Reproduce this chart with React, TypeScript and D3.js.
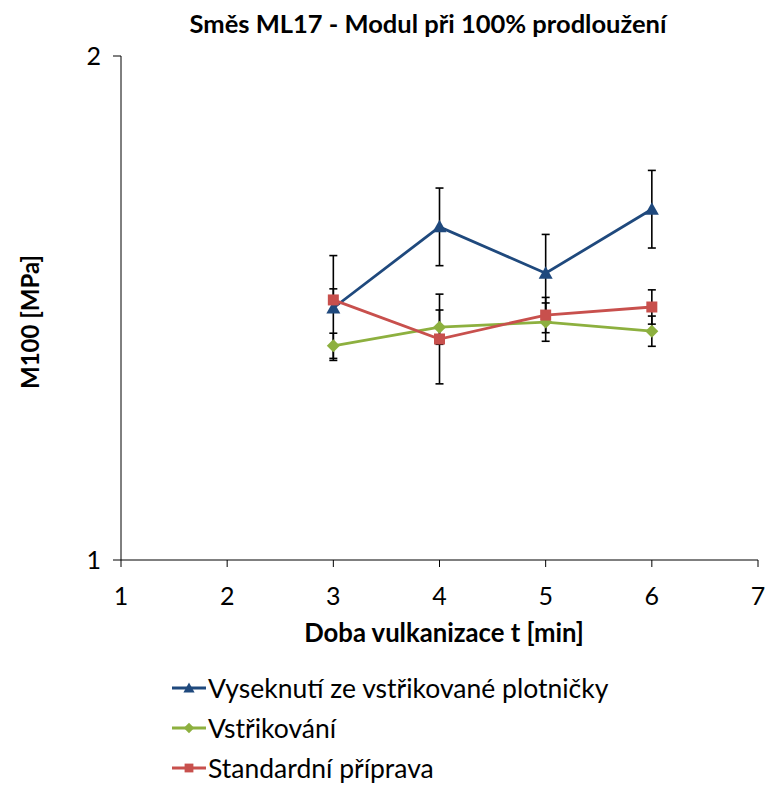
import React from "react";
import * as d3 from "d3";

const xValues = [3, 4, 5, 6];
const seriesNames = ["Vyseknutí ze vstřikované plotničky", "Vstřikování", "Standardní příprava"];
const blueValues = [1.5, 1.661, 1.569, 1.696];
const blueErrors = [0.104, 0.077, 0.077, 0.077];
const greenValues = [1.425, 1.462, 1.472, 1.454];
const greenErrors = [0.025, 0.034, 0.038, 0.03];
const redValues = [1.516, 1.4385, 1.486, 1.502];
const redErrors = [0.022, 0.089, 0.035, 0.034];
const xTicks = [1, 2, 3, 4, 5, 6, 7];
const yTicks = [1, 2];

const W = 769;
const H = 785;
const FONT = "Lato, 'Open Sans', sans-serif";

export default function App() {
  const x = d3.scaleLinear().domain([1, 7]).range([121, 758]);
  const y = d3.scaleLinear().domain([1, 2]).range([560, 56]);
  const line = d3
    .line<number>()
    .x((_, i) => x(xValues[i]))
    .y((v) => y(v));

  const series = [
    { name: seriesNames[0], values: blueValues, errors: blueErrors, color: "#1F497D", marker: "triangle" },
    { name: seriesNames[1], values: greenValues, errors: greenErrors, color: "#8DB03F", marker: "diamond" },
    { name: seriesNames[2], values: redValues, errors: redErrors, color: "#C8504D", marker: "square" },
  ];

  const markerPath = (m: string, cx: number, cy: number, k = 1) => {
    if (m === "triangle") return `M${cx},${cy - 7 * k}L${cx + 7 * k},${cy + 5.5 * k}L${cx - 7 * k},${cy + 5.5 * k}Z`;
    if (m === "diamond") return `M${cx},${cy - 6.5 * k}L${cx + 6.5 * k},${cy}L${cx},${cy + 6.5 * k}L${cx - 6.5 * k},${cy}Z`;
    return `M${cx - 5.5 * k},${cy - 5.5 * k}h${11 * k}v${11 * k}h${-11 * k}Z`;
  };

  return (
    <svg
      width={W}
      height={H}
      style={{ display: "block", background: "#fff", position: "absolute", left: 0, top: 0 }}
      fontFamily={FONT}
    >
      <rect width={W} height={H} fill="#fff" />
      <text x={428} y={33} textAnchor="middle" fontSize={25.5} fontWeight="bold" fill="#000">
        Směs ML17 - Modul při 100% prodloužení
      </text>

      {/* axes */}
      <line x1={x(1)} x2={x(1)} y1={y(2)} y2={y(1)} stroke="#000" strokeWidth={1} />
      <line x1={x(1)} x2={x(7)} y1={y(1)} y2={y(1)} stroke="#000" strokeWidth={1} />
      {yTicks.map((t) => (
        <g key={"yt" + t}>
          <line x1={x(1) - 8} x2={x(1)} y1={y(t)} y2={y(t)} stroke="#000" />
          <text x={x(1) - 20} y={y(t) + 9} textAnchor="end" fontSize={25} fill="#000">
            {t}
          </text>
        </g>
      ))}
      {xTicks.map((t) => (
        <g key={"xt" + t}>
          <line x1={x(t)} x2={x(t)} y1={y(1)} y2={y(1) + 7} stroke="#000" />
          <text x={x(t)} y={605} textAnchor="middle" fontSize={25} fill="#000">
            {t}
          </text>
        </g>
      ))}
      <text x={444} y={642} textAnchor="middle" fontSize={25.7} fontWeight="bold" fill="#000">
        Doba vulkanizace t [min]
      </text>
      <text
        transform={`translate(39,${322}) rotate(-90)`}
        textAnchor="middle"
        fontSize={24}
        fontWeight="bold"
        fill="#000"
      >
        M100 [MPa]
      </text>

      {/* error bars */}
      {series.map((s) =>
        s.values.map((v, i) => {
          const cx = x(xValues[i]);
          const top = y(v + s.errors[i]);
          const bot = y(v - s.errors[i]);
          return (
            <g key={s.name + "e" + i} stroke="#000" strokeWidth={1.6}>
              <line x1={cx} x2={cx} y1={top} y2={bot} />
              <line x1={cx - 4} x2={cx + 4} y1={top} y2={top} />
              <line x1={cx - 4} x2={cx + 4} y1={bot} y2={bot} />
            </g>
          );
        })
      )}

      {/* lines and markers */}
      {series.map((s) => (
        <g key={s.name}>
          <path d={line(s.values) || ""} fill="none" stroke={s.color} strokeWidth={2.8} />
          {s.values.map((v, i) => (
            <path key={i} d={markerPath(s.marker, x(xValues[i]), y(v))} fill={s.color} />
          ))}
        </g>
      ))}

      {/* legend */}
      {series.map((s, i) => {
        const ly = 688 + i * 40;
        return (
          <g key={"lg" + i}>
            <line x1={172} x2={206} y1={ly} y2={ly} stroke={s.color} strokeWidth={2.8} />
            <path d={markerPath(s.marker, 189, ly, 0.8)} fill={s.color} />
            <text x={208} y={ly + 10} fontSize={26.5} fill="#000">
              {s.name}
            </text>
          </g>
        );
      })}
    </svg>
  );
}
